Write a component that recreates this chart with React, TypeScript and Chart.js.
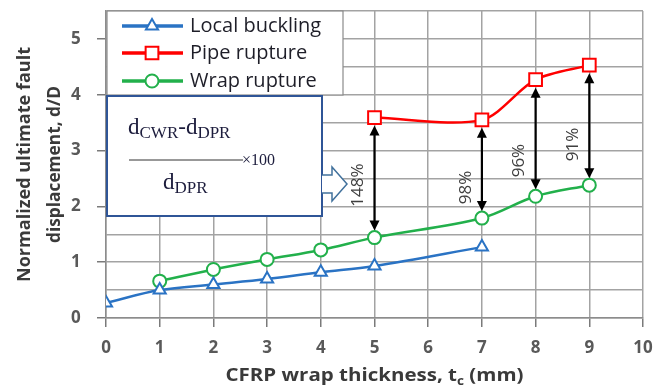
import React, { useEffect, useRef } from "react";
import { Chart, registerables } from "chart.js";

Chart.register(...registerables);

// ---------- data ----------
const xTicks = [0, 1, 2, 3, 4, 5, 6, 7, 8, 9, 10];
const localBucklingX = [0, 1, 2, 3, 4, 5, 7];
const localBucklingY = [0.27, 0.5, 0.6, 0.7, 0.82, 0.93, 1.27];
const pipeRuptureX = [5, 7, 8, 9];
const pipeRuptureY = [3.59, 3.55, 4.27, 4.53];
const wrapRuptureX = [1, 2, 3, 4, 5, 7, 8, 9];
const wrapRuptureY = [0.66, 0.87, 1.05, 1.22, 1.44, 1.79, 2.18, 2.38];
const increaseX = [5, 7, 8, 9];
const increaseLabels = ["148%", "98%", "96%", "91%"];
const seriesNames = ["Local buckling", "Pipe rupture", "Wrap rupture"];
const yTitleLines = ["Normalized ultimate fault", "displacement, d/D"];

// ---------- layout / style ----------
const increaseLabelY = [2.38, 2.34, 2.82, 3.11];
const FONT = '"Open Sans", Lato, "DejaVu Sans", sans-serif';
const SERIF = '"Liberation Serif", "DejaVu Serif", serif';
const BLUE = "#2a73c4";
const RED = "#ff0000";
const GREEN = "#22b04b";
const GRID = "#a3a3a3";

const toPts = (xs: number[], ys: number[]) => xs.map((x, i) => ({ x, y: ys[i] }));

function drawMarker(ctx: CanvasRenderingContext2D, style: string, x: number, y: number, r: number, color: string, lw: number) {
  ctx.save();
  ctx.beginPath();
  if (style === "triangle") {
    ctx.moveTo(x, y - r);
    ctx.lineTo(x + 0.866 * r, y + 0.5 * r);
    ctx.lineTo(x - 0.866 * r, y + 0.5 * r);
    ctx.closePath();
  } else if (style === "rect") {
    const s = Math.SQRT1_2 * r;
    ctx.rect(x - s, y - s, 2 * s, 2 * s);
  } else {
    ctx.arc(x, y, r, 0, Math.PI * 2);
  }
  ctx.fillStyle = "#ffffff";
  ctx.fill();
  ctx.strokeStyle = color;
  ctx.lineWidth = lw;
  ctx.stroke();
  ctx.restore();
}

function arrowHead(ctx: CanvasRenderingContext2D, x: number, tipY: number, dir: number) {
  const len = 10;
  const hw = 5;
  ctx.beginPath();
  ctx.moveTo(x, tipY);
  ctx.lineTo(x - hw, tipY + dir * len);
  ctx.lineTo(x + hw, tipY + dir * len);
  ctx.closePath();
  ctx.fill();
}

function fitText(ctx: CanvasRenderingContext2D, text: string, x: number, y: number, width: number) {
  const w = ctx.measureText(text).width;
  ctx.save();
  ctx.translate(x, y);
  ctx.scale(width / w, 1);
  ctx.fillText(text, 0, 0);
  ctx.restore();
}

const decorations = {
  id: "decorations",
  beforeDatasetsDraw(chart: any) {
    const { ctx, chartArea: ca, scales } = chart;
    const xs = scales.x;
    const ys = scales.y;
    ctx.save();

    // legend box
    ctx.fillStyle = "#ffffff";
    ctx.fillRect(ca.left + 1, ca.top, 236, 84);
    ctx.strokeStyle = "#8a8a8a";
    ctx.lineWidth = 1.2;
    ctx.strokeRect(ca.left + 1, ca.top, 236, 84);
    const rowY = [ca.top + 15, ca.top + 42, ca.top + 70];
    chart.data.datasets.forEach((ds: any, i: number) => {
      const yy = rowY[i];
      ctx.strokeStyle = ds.borderColor;
      ctx.lineWidth = 3.5;
      ctx.beginPath();
      ctx.moveTo(ca.left + 16, yy);
      ctx.lineTo(ca.left + 77, yy);
      ctx.stroke();
      drawMarker(ctx, ds.pointStyle, ca.left + 46, yy, ds.pointRadius, ds.borderColor, 2);
      ctx.fillStyle = "#1e1e28";
      ctx.font = `20px ${FONT}`;
      ctx.textAlign = "left";
      ctx.textBaseline = "middle";
      ctx.fillText(ds.label, ca.left + 84, yy);
    });

    // formula box
    const bx = ca.left + 1, by = ca.top + 85, bw = 215, bh = 120;
    ctx.fillStyle = "#ffffff";
    ctx.fillRect(bx, by, bw, bh);
    ctx.strokeStyle = "#2f5597";
    ctx.lineWidth = 2;
    ctx.strokeRect(bx, by, bw, bh);

    ctx.fillStyle = "#1c1c3c";
    ctx.textAlign = "left";
    ctx.textBaseline = "alphabetic";
    let cx = bx + 21;
    const numBase = by + 38;
    ctx.font = `23px ${SERIF}`;
    ctx.fillText("d", cx, numBase);
    cx += ctx.measureText("d").width;
    ctx.font = `17px ${SERIF}`;
    ctx.fillText("CWR", cx, numBase + 4);
    cx += ctx.measureText("CWR").width;
    ctx.font = `23px ${SERIF}`;
    ctx.fillText("-d", cx, numBase);
    cx += ctx.measureText("-d").width;
    ctx.font = `17px ${SERIF}`;
    ctx.fillText("DPR", cx, numBase + 4);

    const lineY = by + 64;
    ctx.strokeStyle = "#333333";
    ctx.lineWidth = 1;
    ctx.beginPath();
    ctx.moveTo(bx + 22, lineY);
    ctx.lineTo(bx + 136, lineY);
    ctx.stroke();
    ctx.font = `16px ${SERIF}`;
    ctx.textBaseline = "middle";
    ctx.fillText("\u00d7100", bx + 135, lineY + 1);

    ctx.textBaseline = "alphabetic";
    let dx = bx + 56;
    const denBase = by + 93;
    ctx.font = `23px ${SERIF}`;
    ctx.fillText("d", dx, denBase);
    dx += ctx.measureText("d").width;
    ctx.font = `17px ${SERIF}`;
    ctx.fillText("DPR", dx, denBase + 4);

    // hollow block arrow
    const ax = bx + bw;
    const ay = by + 88;
    ctx.beginPath();
    ctx.moveTo(ax, ay - 9);
    ctx.lineTo(ax + 10, ay - 9);
    ctx.lineTo(ax + 10, ay - 17);
    ctx.lineTo(ax + 25, ay);
    ctx.lineTo(ax + 10, ay + 17);
    ctx.lineTo(ax + 10, ay + 9);
    ctx.lineTo(ax, ay + 9);
    ctx.fillStyle = "#ffffff";
    ctx.fill();
    ctx.strokeStyle = "#41719c";
    ctx.lineWidth = 1.5;
    ctx.stroke();

    // double arrows between wrap rupture and pipe rupture
    ctx.fillStyle = "#000000";
    ctx.strokeStyle = "#000000";
    increaseX.forEach((xv, i) => {
      const top = pipeRuptureY[pipeRuptureX.indexOf(xv)];
      const bot = wrapRuptureY[wrapRuptureX.indexOf(xv)];
      const px = xs.getPixelForValue(xv);
      const yTop = ys.getPixelForValue(top) + 8;
      const yBot = ys.getPixelForValue(bot) - 7;
      ctx.lineWidth = 2.2;
      ctx.beginPath();
      ctx.moveTo(px, yTop + 6);
      ctx.lineTo(px, yBot - 6);
      ctx.stroke();
      arrowHead(ctx, px, yTop, 1);
      arrowHead(ctx, px, yBot, -1);

      ctx.save();
      ctx.translate(px - 16, ys.getPixelForValue(increaseLabelY[i]));
      ctx.rotate(-Math.PI / 2);
      ctx.font = `17px ${FONT}`;
      ctx.fillStyle = "#404040";
      ctx.textAlign = "center";
      ctx.textBaseline = "middle";
      ctx.fillText(increaseLabels[i], 0, 0);
      ctx.restore();
    });

    ctx.restore();
  },
  afterDraw(chart: any) {
    const { ctx, chartArea: ca } = chart;
    ctx.save();
    ctx.fillStyle = "#3a3a3a";
    // y title
    ctx.font = `bold 18px ${FONT}`;
    ctx.textAlign = "left";
    ctx.textBaseline = "middle";
    const cy = (ca.top + ca.bottom) / 2;
    const widths = [235, 157];
    [25, 55].forEach((xx, i) => {
      ctx.save();
      ctx.translate(xx, cy);
      ctx.rotate(-Math.PI / 2);
      fitText(ctx, yTitleLines[i], -widths[i] / 2, 0, widths[i]);
      ctx.restore();
    });
    // x title with subscript
    const main = "CFRP wrap thickness, t";
    const sub = "c";
    const tail = " (mm)";
    const target = 298;
    ctx.font = `bold 18px ${FONT}`;
    const w1 = ctx.measureText(main).width;
    const w3 = ctx.measureText(tail).width;
    ctx.font = `bold 12px ${FONT}`;
    const w2 = ctx.measureText(sub).width;
    const total = w1 + w2 + w3;
    const k = target / total;
    const cxm = (ca.left + ca.right) / 2;
    const ty = ca.bottom + 58;
    ctx.save();
    ctx.translate(cxm - target / 2, ty);
    ctx.scale(k, 1);
    ctx.font = `bold 18px ${FONT}`;
    ctx.fillText(main, 0, 0);
    ctx.font = `bold 12px ${FONT}`;
    ctx.fillText(sub, w1, 6);
    ctx.font = `bold 18px ${FONT}`;
    ctx.fillText(tail, w1 + w2, 0);
    ctx.restore();
    ctx.restore();
  },
};

const noScalePadding = (s: any) => {
  s.paddingTop = 0;
  s.paddingBottom = 0;
  s.paddingLeft = 0;
  s.paddingRight = 0;
};

export default function App() {
  const ref = useRef<HTMLCanvasElement | null>(null);
  useEffect(() => {
    document.body.style.margin = "0";
    const canvas = ref.current;
    if (!canvas) return;
    const chart = new Chart(canvas, {
      type: "line",
      data: {
        datasets: [
          {
            label: seriesNames[0],
            data: toPts(localBucklingX, localBucklingY),
            borderColor: BLUE,
            backgroundColor: "#ffffff",
            pointStyle: "triangle",
            pointRadius: 7,
            pointBorderWidth: 2,
            pointBackgroundColor: "#ffffff",
            borderWidth: 2.5,
            tension: 0.35,
          },
          {
            label: seriesNames[1],
            data: toPts(pipeRuptureX, pipeRuptureY),
            borderColor: RED,
            backgroundColor: "#ffffff",
            pointStyle: "rect",
            pointRadius: 9,
            pointBorderWidth: 2,
            pointBackgroundColor: "#ffffff",
            borderWidth: 2.5,
            tension: 0.3,
          },
          {
            label: seriesNames[2],
            data: toPts(wrapRuptureX, wrapRuptureY),
            borderColor: GREEN,
            backgroundColor: "#ffffff",
            pointStyle: "circle",
            pointRadius: 6.5,
            pointBorderWidth: 2,
            pointBackgroundColor: "#ffffff",
            borderWidth: 2.5,
            tension: 0.35,
          },
        ],
      },
      options: {
        responsive: false,
        animation: false,
        devicePixelRatio: 1,
        layout: { padding: { top: 10, right: 15, left: 71, bottom: 0 } },
        plugins: { legend: { display: false }, tooltip: { enabled: false } },
        scales: {
          x: {
            type: "linear",
            min: 0,
            max: 10,
            afterBuildTicks: (s: any) => {
              s.ticks = xTicks.map((v) => ({ value: v }));
            },
            ticks: {
              stepSize: 1,
              color: "#595959",
              font: { family: FONT, size: 17, weight: "bold" },
              padding: 11,
              maxRotation: 0,
            },
            grid: { color: GRID, lineWidth: 1.5, drawTicks: true, tickLength: 9, tickWidth: 1.5, tickColor: "#7a7a7a" },
            border: { color: "#8c8c8c", width: 1.5 },
            afterFit: (s: any) => {
              s.height = 71;
              noScalePadding(s);
            },
          },
          y: {
            position: "left",
            min: 0,
            max: 5.5,
            ticks: {
              stepSize: 0.5,
              autoSkip: false,
              crossAlign: "far",
              color: "#595959",
              font: { family: FONT, size: 17, weight: "bold" },
              padding: 0,
              callback: (v: any) => (Number.isInteger(v) ? String(v) : ""),
            },
            grid: {
              color: GRID,
              lineWidth: 1.5,
              drawTicks: true,
              tickLength: 9,
              tickWidth: 1.5,
              tickColor: (c: any) => (c.tick && Number.isInteger(c.tick.value) ? "#7a7a7a" : "rgba(0,0,0,0)"),
            },
            border: { color: "#8c8c8c", width: 1.5 },
            afterFit: (s: any) => {
              s.width = 35;
              noScalePadding(s);
            },
          },
        },
      },
      plugins: [decorations],
    } as any);
    return () => chart.destroy();
  }, []);
  return (
    <div style={{ width: 658, height: 389, position: "relative", background: "#ffffff" }}>
      <canvas ref={ref} width={658} height={389} style={{ display: "block" }} />
    </div>
  );
}
